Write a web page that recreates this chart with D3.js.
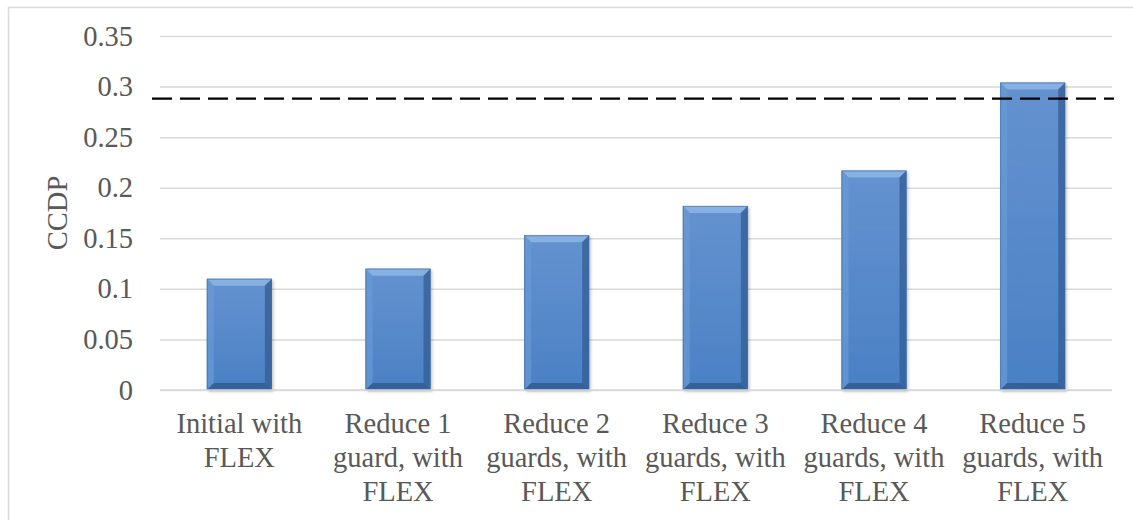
<!DOCTYPE html>
<html>
<head>
<meta charset="utf-8">
<script src="https://cdn.jsdelivr.net/npm/d3@7"></script>
<style>
  html, body { margin: 0; padding: 0; background: #ffffff; }
  svg { display: block; }
</style>
</head>
<body>
<svg id="chart" width="1133" height="520"></svg>
<script>
// Category labels (each line of a wrapped label is one entry)
const categories = [
  ["Initial with", "FLEX"],
  ["Reduce 1", "guard, with", "FLEX"],
  ["Reduce 2", "guards, with", "FLEX"],
  ["Reduce 3", "guards, with", "FLEX"],
  ["Reduce 4", "guards, with", "FLEX"],
  ["Reduce 5", "guards, with", "FLEX"]
];
const ccdpValues = [0.11, 0.12, 0.153, 0.182, 0.217, 0.304];
const thresholdValue = 0.288;
const yTicks = [0, 0.05, 0.1, 0.15, 0.2, 0.25, 0.3, 0.35];
const yTickLabels = ["0", "0.05", "0.1", "0.15", "0.2", "0.25", "0.3", "0.35"];
const yTitle = "CCDP";

const FONT = "Liberation Serif";
const FONT_SIZE = 28.5;
const TEXT_COLOR = "#595959";

const svg = d3.select("#chart");
const plot = { left: 160, right: 1112, top: 36, bottom: 390 };

// Chart frame
svg.append("rect")
  .attr("x", 8.5).attr("y", 7.5)
  .attr("width", 1140).attr("height", 540)
  .attr("fill", "none")
  .attr("stroke", "#d9d9d9")
  .attr("stroke-width", 1.5);

const x = d3.scaleBand()
  .domain(d3.range(categories.length))
  .range([plot.left, plot.right])
  .paddingInner(0.59)
  .paddingOuter(0.295);

const y = d3.scaleLinear()
  .domain([0, 0.35])
  .range([plot.bottom, plot.top]);

// Gradients for the bevelled bars
const defs = svg.append("defs");
const body = defs.append("linearGradient")
  .attr("id", "barBody").attr("x1", 0).attr("y1", 0).attr("x2", 0).attr("y2", 1);
body.append("stop").attr("offset", "0%").attr("stop-color", "#6592cf");
body.append("stop").attr("offset", "100%").attr("stop-color", "#4a81c5");

const shadow = defs.append("filter").attr("id", "barShadow")
  .attr("x", "-20%").attr("y", "-10%").attr("width", "140%").attr("height", "120%");
shadow.append("feDropShadow")
  .attr("dx", 1.5).attr("dy", 1.5).attr("stdDeviation", 1.5)
  .attr("flood-color", "#000").attr("flood-opacity", 0.25);

// Horizontal gridlines
const grid = svg.append("g")
  .attr("transform", `translate(${plot.left},0)`)
  .call(d3.axisLeft(y).tickValues(yTicks).tickSize(-(plot.right - plot.left)).tickFormat(""));
grid.select(".domain").remove();
grid.selectAll("line").attr("stroke", "#d9d9d9").attr("stroke-width", 1.5);

// Y axis labels
const yAxis = svg.append("g")
  .attr("transform", `translate(${plot.left},0)`)
  .call(d3.axisLeft(y).tickValues(yTicks).tickSize(0).tickPadding(27)
    .tickFormat((d, i) => yTickLabels[i]));
yAxis.select(".domain").remove();
yAxis.selectAll("text")
  .attr("font-family", FONT)
  .attr("font-size", FONT_SIZE)
  .attr("fill", TEXT_COLOR);

// Y axis title
svg.append("text")
  .attr("transform", `translate(67,${(plot.top + plot.bottom) / 2}) rotate(-90)`)
  .attr("text-anchor", "middle")
  .attr("font-family", FONT)
  .attr("font-size", FONT_SIZE)
  .attr("fill", TEXT_COLOR)
  .text(yTitle);

// Bars with a soft bevel
const bev = 7;
const bars = svg.append("g").selectAll("g.bar")
  .data(ccdpValues)
  .join("g")
  .attr("class", "bar");

bars.each(function (v, i) {
  const g = d3.select(this);
  const x0 = x(i), x1 = x(i) + x.bandwidth();
  const y0 = y(v), y1 = y(0);
  g.append("rect")
    .attr("x", x0).attr("y", y0)
    .attr("width", x1 - x0).attr("height", y1 - y0)
    .attr("fill", "url(#barBody)")
    .attr("filter", "url(#barShadow)");
  const b = Math.min(bev, (y1 - y0) / 2);
  const faces = [
    { pts: [[x0, y0], [x1, y0], [x1 - b, y0 + b], [x0 + b, y0 + b]], fill: "#8db5e6", op: 0.85 },
    { pts: [[x0, y0], [x0 + b, y0 + b], [x0 + b, y1 - b], [x0, y1]], fill: "#6a9ad6", op: 0.7 },
    { pts: [[x1, y0], [x1, y1], [x1 - b, y1 - b], [x1 - b, y0 + b]], fill: "#2f5a92", op: 0.7 },
    { pts: [[x0, y1], [x0 + b, y1 - b], [x1 - b, y1 - b], [x1, y1]], fill: "#2c568c", op: 0.75 }
  ];
  g.selectAll("polygon")
    .data(faces)
    .join("polygon")
    .attr("points", d => d.pts.map(p => p.join(",")).join(" "))
    .attr("fill", d => d.fill)
    .attr("fill-opacity", d => d.op);
  g.append("rect")
    .attr("x", x0 + 0.5).attr("y", y0 + 0.5)
    .attr("width", x1 - x0 - 1).attr("height", y1 - y0 - 1)
    .attr("fill", "none")
    .attr("stroke", "#3d6aa5")
    .attr("stroke-opacity", 0.6)
    .attr("stroke-width", 1);
});

// Baseline
svg.append("line")
  .attr("x1", plot.left).attr("x2", plot.right)
  .attr("y1", y(0)).attr("y2", y(0))
  .attr("stroke", "#d9d9d9").attr("stroke-width", 1.5);

// Threshold line
svg.append("line")
  .attr("x1", 152).attr("x2", 1114)
  .attr("y1", y(thresholdValue)).attr("y2", y(thresholdValue))
  .attr("stroke", "#000")
  .attr("stroke-width", 2.2)
  .attr("stroke-dasharray", "20,8");

// Category labels
const xl = svg.append("g");
categories.forEach((lines, i) => {
  const t = xl.append("text")
    .attr("text-anchor", "middle")
    .attr("font-family", FONT)
    .attr("font-size", FONT_SIZE)
    .attr("fill", TEXT_COLOR);
  lines.forEach((ln, j) => {
    t.append("tspan")
      .attr("x", x(i) + x.bandwidth() / 2)
      .attr("y", y(0) + 43 + j * 34)
      .text(ln);
  });
});
</script>
</body>
</html>
